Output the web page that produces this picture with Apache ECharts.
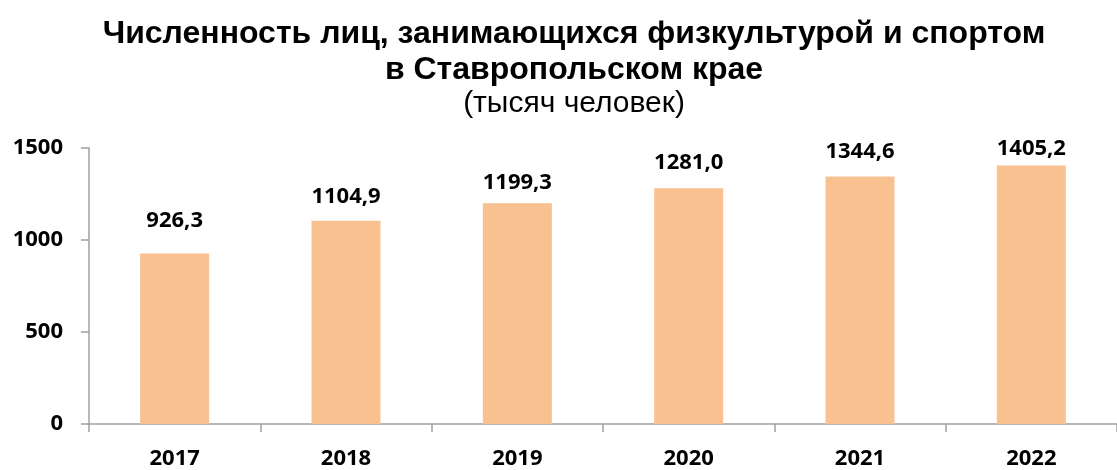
<!DOCTYPE html>
<html>
<head>
<meta charset="utf-8">
<script src="https://cdn.jsdelivr.net/npm/echarts@6/dist/echarts.min.js"></script>
<style>
    html, body { margin: 0; padding: 0; background: #fff; }
    #chart { width: 1117px; height: 470px; }
</style>
</head>
<body>
<div id="chart"></div>
<script>
// chart data
const years = ['2017', '2018', '2019', '2020', '2021', '2022'];
const people = [926.3, 1104.9, 1199.3, 1281.0, 1344.6, 1405.2];
const yTicks = [0, 500, 1000, 1500];

// label gaps above each bar (hand placed in the original)
const labelGap = [22, 13, 10, 15, 14, 6];

const myChart = echarts.init(document.getElementById('chart'));
const option = {
    animation: false,
    title: {
        text: 'Численность лиц, занимающихся физкультурой и спортом\nв Ставропольском крае',
        subtext: '(тысяч человек)',
        left: 569,
        textAlign: 'center',
        top: 11,
        itemGap: 0,
        textStyle: {
            fontFamily: 'Liberation Sans',
            fontSize: 32,
            fontWeight: 'bold',
            color: '#000',
            lineHeight: 36
        },
        subtextStyle: {
            fontFamily: 'Liberation Sans',
            fontSize: 30,
            color: '#000',
            lineHeight: 32
        }
    },
    grid: {
        left: 89,
        top: 148,
        bottom: 43,
        width: 1035
    },
    xAxis: {
        type: 'category',
        data: years,
        axisLine: {
            lineStyle: { color: '#a0a0a0', width: 1.5 }
        },
        axisTick: {
            show: true,
            length: 8,
            lineStyle: { color: '#a0a0a0', width: 1.5 }
        },
        axisLabel: {
            margin: 24,
            fontFamily: 'Open Sans',
            fontWeight: 'bold',
            fontSize: 22,
            color: '#000'
        }
    },
    yAxis: {
        type: 'value',
        min: yTicks[0],
        max: yTicks[yTicks.length - 1],
        interval: 500,
        axisLine: {
            show: true,
            lineStyle: { color: '#a0a0a0', width: 1.5 }
        },
        axisTick: {
            show: true,
            length: 8,
            lineStyle: { color: '#a0a0a0', width: 1.5 }
        },
        splitLine: { show: false },
        axisLabel: {
            margin: 26,
            fontFamily: 'Open Sans',
            fontWeight: 'bold',
            fontSize: 22,
            color: '#000',
            formatter: v => String(v)
        }
    },
    series: [{
        type: 'bar',
        data: people.map((v, i) => ({
            value: v,
            label: { distance: labelGap[i] }
        })),
        barWidth: 69,
        itemStyle: { color: '#f9c190' },
        label: {
            show: true,
            position: 'top',
            fontFamily: 'Open Sans',
            fontWeight: 'bold',
            fontSize: 22,
            lineHeight: 22,
            color: '#000',
            formatter: p => p.value.toFixed(1).replace('.', ',')
        }
    }]
};
myChart.setOption(option);
</script>
</body>
</html>
